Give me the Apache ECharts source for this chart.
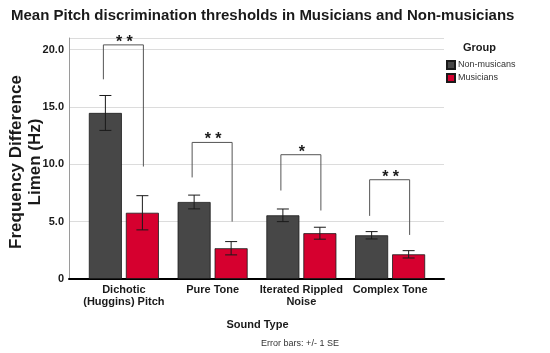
<!DOCTYPE html>
<html>
<head>
<meta charset="utf-8">
<script src="https://cdn.jsdelivr.net/npm/echarts@6/dist/echarts.min.js"></script>
<style>
html,body{margin:0;padding:0;background:#fff;}
#chart{width:550px;height:353px;}
</style>
</head>
<body>
<div id="chart"></div>
<script>
// ---- data ----
var categories = ['Dichotic\n(Huggins) Pitch', 'Pure Tone', 'Iterated Rippled\nNoise', 'Complex Tone'];
var seriesNames = ['Non-musicans', 'Musicians'];
var nonMusicians = [14.47, 6.71, 5.55, 3.81];
var nonMusiciansSE = [1.52, 0.60, 0.55, 0.32];
var musicians = [5.77, 2.68, 3.99, 2.15];
var musiciansSE = [1.49, 0.58, 0.52, 0.32];
var bracketTop = [20.4, 11.9, 10.83, 8.65];
var bracketLeftEnd = [17.4, 8.85, 7.71, 5.5];
var bracketRightEnd = [9.8, 5.0, 5.97, 3.84];
var sigLabels = ['**', '**', '*', '**'];
var yTicks = [0, 5, 10, 15, 20];

// ---- style constants ----
var DARK = '#474747', RED = '#d6002f';
var BAR_W = 33, BAR_GAP_PX = 4;
var OFF = BAR_W / 2 + BAR_GAP_PX / 2;
var FONT = 'Liberation Sans, Arial, sans-serif';

var chart = echarts.init(document.getElementById('chart'), null, {renderer: 'canvas'});

function errData(vals, se) {
  return vals.map(function (v, i) { return [i, v - se[i], v + se[i]]; });
}
function errRender(offset) {
  return function (params, api) {
    var c = api.value(0);
    var lo = api.coord([c, api.value(1)]);
    var hi = api.coord([c, api.value(2)]);
    var x = lo[0] + offset;
    var st = {stroke: '#1a1a1a', lineWidth: 1};
    return {type: 'group', children: [
      {type: 'line', shape: {x1: x, y1: lo[1], x2: x, y2: hi[1]}, style: st},
      {type: 'line', shape: {x1: x - 6, y1: lo[1], x2: x + 6, y2: lo[1]}, style: st},
      {type: 'line', shape: {x1: x - 6, y1: hi[1], x2: x + 6, y2: hi[1]}, style: st}
    ]};
  };
}
var bracketData = categories.map(function (c, i) {
  return [i, bracketTop[i], bracketLeftEnd[i], bracketRightEnd[i]];
});

var option = {
  backgroundColor: '#fff',
  animation: false,
  textStyle: {fontFamily: FONT},
  title: {
    text: 'Mean Pitch discrimination thresholds in Musicians and Non-musicians',
    left: 6, top: 3,
    textStyle: {fontSize: 15, fontWeight: 'bold', color: '#1a1a1a', fontFamily: FONT}
  },
  legend: {
    data: seriesNames,
    orient: 'vertical',
    left: 446, top: 60,
    itemWidth: 8, itemHeight: 8, itemGap: 3,
    padding: 0,
    icon: 'rect',
    textStyle: {fontSize: 9, color: '#333', lineHeight: 8, fontFamily: FONT, padding: [0, 0, 0, -2]}
  },
  graphic: [
    {type: 'text', left: 463, top: 42, style: {text: 'Group', font: 'bold 11px ' + FONT, fill: '#1a1a1a'}},
    {type: 'text', x: 26, y: 162, rotation: Math.PI / 2,
      style: {text: 'Frequency Difference\nLimen (Hz)', font: 'bold 17px ' + FONT, fill: '#1a1a1a',
        align: 'center', verticalAlign: 'middle', lineHeight: 19}},
    {type: 'text', x: 257.5, y: 325, style: {text: 'Sound Type', font: 'bold 11px ' + FONT, fill: '#1a1a1a', align: 'center', verticalAlign: 'middle'}},
    {type: 'text', x: 300, y: 344, style: {text: 'Error bars: +/- 1 SE', font: '9px ' + FONT, fill: '#333', align: 'center', verticalAlign: 'middle'}}
  ],
  grid: [
    {left: 69, top: 38, width: 375, height: 241},
    {left: 79.5, top: 38, width: 355, height: 241}
  ],
  xAxis: [
    {gridIndex: 0, type: 'value', min: 0, max: 1, axisLabel: {show: false}, axisTick: {show: false},
      splitLine: {show: false}, axisLine: {show: true, lineStyle: {color: '#000', width: 2}}},
    {gridIndex: 1, type: 'category', data: categories, axisLine: {show: false}, axisTick: {show: false},
      axisLabel: {margin: 5, fontSize: 11, fontWeight: 'bold', color: '#1a1a1a', lineHeight: 12, interval: 0, fontFamily: FONT}}
  ],
  yAxis: [
    {gridIndex: 0, type: 'value', min: 0, max: 21, interval: 5,
      axisLine: {show: true, lineStyle: {color: '#9a9a9a', width: 1}},
      axisTick: {show: false},
      splitLine: {show: true, lineStyle: {color: '#dcdcdc', width: 1}},
      axisLabel: {margin: 5, fontSize: 11, fontWeight: 'bold', color: '#1a1a1a', fontFamily: FONT,
        formatter: function (v) { return yTicks.indexOf(v) < 0 ? '' : (v === 0 ? '0' : v.toFixed(1)); }}},
    {gridIndex: 1, type: 'value', min: 0, max: 21, show: false, splitLine: {show: false}}
  ],
  series: [
    {name: seriesNames[0], type: 'bar', xAxisIndex: 1, yAxisIndex: 1, data: nonMusicians,
      barWidth: BAR_W, barGap: (BAR_GAP_PX / BAR_W * 100) + '%',
      itemStyle: {color: DARK, borderColor: '#1a1a1a', borderWidth: 0.8}},
    {name: seriesNames[1], type: 'bar', xAxisIndex: 1, yAxisIndex: 1, data: musicians,
      barWidth: BAR_W,
      itemStyle: {color: RED, borderColor: '#1a1a1a', borderWidth: 0.8}},
    {type: 'custom', xAxisIndex: 1, yAxisIndex: 1, data: errData(nonMusicians, nonMusiciansSE),
      renderItem: errRender(-OFF), z: 5, silent: true},
    {type: 'custom', xAxisIndex: 1, yAxisIndex: 1, data: errData(musicians, musiciansSE),
      renderItem: errRender(OFF), z: 5, silent: true},
    {type: 'custom', xAxisIndex: 1, yAxisIndex: 1, data: bracketData, z: 6, silent: true,
      renderItem: function (params, api) {
        var c = api.value(0);
        var top = api.coord([c, api.value(1)]);
        var lb = api.coord([c, api.value(2)]);
        var rb = api.coord([c, api.value(3)]);
        var xl = top[0] - OFF - 2, xr = top[0] + OFF + 1;
        var st = {stroke: '#555', lineWidth: 1};
        return {type: 'group', children: [
          {type: 'line', shape: {x1: xl, y1: lb[1], x2: xl, y2: top[1]}, style: st},
          {type: 'line', shape: {x1: xl, y1: top[1], x2: xr, y2: top[1]}, style: st},
          {type: 'line', shape: {x1: xr, y1: top[1], x2: xr, y2: rb[1]}, style: st},
          {type: 'text', x: (xl + xr) / 2 + 1, y: top[1] - 2.5,
            style: {text: sigLabels[params.dataIndex].split('').join(' '), font: 'bold 16px ' + FONT,
              fill: '#1a1a1a', align: 'center', verticalAlign: 'middle'}}
        ]};
      }}
  ]
};
chart.setOption(option);
</script>
</body>
</html>
